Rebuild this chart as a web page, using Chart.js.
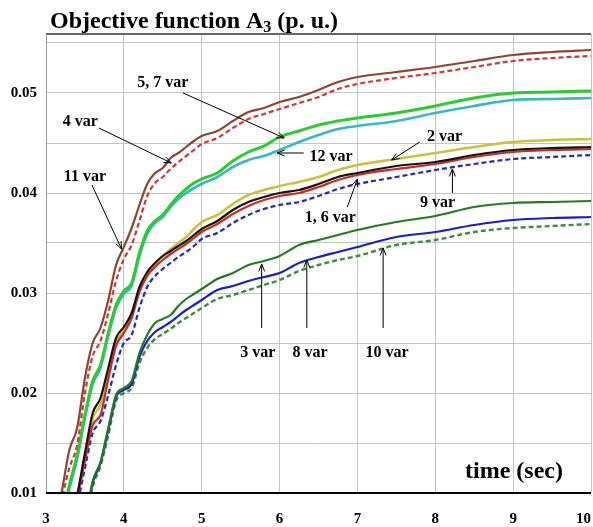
<!DOCTYPE html>
<html>
<head>
<meta charset="utf-8">
<script src="https://cdn.jsdelivr.net/npm/chart.js@4.4.1/dist/chart.umd.min.js"></script>
<style>
  html, body { margin: 0; padding: 0; background: #fff; }
</style>
</head>
<body>
<canvas id="chart" width="593" height="527"></canvas>
<script>
// time axis (sec), shared by every curve
const time = [3.1, 3.2, 3.3, 3.4, 3.5, 3.6, 3.7, 3.8, 3.9, 4.0, 4.1, 4.2, 4.3, 4.4, 4.5, 4.6, 4.7, 4.8, 4.9, 5.0,
  5.2, 5.4, 5.6, 5.8, 6.0, 6.25, 6.5, 6.75, 7.0, 7.5, 8.0, 8.5, 9.0, 9.5, 10.0];

// objective function A3 (p.u.) for each variable set
const var11 = [0.0060, 0.0100, 0.0143, 0.0165, 0.0215, 0.0250, 0.0265, 0.0293, 0.0328, 0.0346, 0.0365, 0.0388, 0.0409, 0.0420, 0.0425, 0.0435, 0.0440, 0.0446, 0.0452, 0.0457,
  0.0462, 0.0472, 0.0481, 0.0485, 0.0491, 0.0496, 0.0503, 0.0511, 0.0516, 0.0521, 0.0526, 0.0532, 0.0538, 0.0541, 0.0543];
const var4 = [0.0050, 0.0092, 0.0125, 0.0148, 0.0200, 0.0237, 0.0252, 0.0280, 0.0312, 0.0334, 0.0348, 0.0372, 0.0397, 0.0410, 0.0416, 0.0424, 0.0431, 0.0437, 0.0443, 0.0449,
  0.0455, 0.0465, 0.0474, 0.0479, 0.0484, 0.0490, 0.0496, 0.0504, 0.0509, 0.0515, 0.0520, 0.0526, 0.0532, 0.0535, 0.0537];
const var57 = [0.0040, 0.0072, 0.0108, 0.0138, 0.0178, 0.0212, 0.0228, 0.0260, 0.0288, 0.0302, 0.0310, 0.0340, 0.0362, 0.0372, 0.0378, 0.0388, 0.0397, 0.0404, 0.0410, 0.0414,
  0.0420, 0.0432, 0.0441, 0.0447, 0.0456, 0.0462, 0.0468, 0.0472, 0.0475, 0.0480, 0.0487, 0.0495, 0.0500, 0.0501, 0.0502];
const var12 = [0.0038, 0.0068, 0.0104, 0.0134, 0.0175, 0.0209, 0.0225, 0.0257, 0.0285, 0.0299, 0.0307, 0.0337, 0.0359, 0.0370, 0.0376, 0.0386, 0.0394, 0.0400, 0.0405, 0.0409,
  0.0416, 0.0426, 0.0433, 0.0437, 0.0443, 0.0451, 0.0458, 0.0464, 0.0467, 0.0472, 0.0480, 0.0487, 0.0493, 0.0494, 0.0495];
const var2 = [0.0008, 0.0038, 0.0068, 0.0096, 0.0136, 0.0175, 0.0188, 0.0218, 0.0250, 0.0262, 0.0276, 0.0303, 0.0318, 0.0328, 0.0337, 0.0344, 0.0350, 0.0356, 0.0364, 0.0371,
  0.0378, 0.0389, 0.0398, 0.0403, 0.0407, 0.0411, 0.0416, 0.0423, 0.0428, 0.0434, 0.0440, 0.0446, 0.0451, 0.0453, 0.0454];
const var1 = [0.0010, 0.0040, 0.0070, 0.0098, 0.0140, 0.0180, 0.0195, 0.0225, 0.0255, 0.0266, 0.0280, 0.0306, 0.0321, 0.0330, 0.0337, 0.0342, 0.0347, 0.0352, 0.0358, 0.0364,
  0.0372, 0.0383, 0.0391, 0.0396, 0.0400, 0.0403, 0.0409, 0.0416, 0.0420, 0.0427, 0.0431, 0.0438, 0.0443, 0.0445, 0.0446];
const var6 = [0.0005, 0.0035, 0.0065, 0.0095, 0.0132, 0.0168, 0.0178, 0.0214, 0.0247, 0.0260, 0.0275, 0.0301, 0.0317, 0.0326, 0.0333, 0.0339, 0.0344, 0.0349, 0.0355, 0.0361,
  0.0369, 0.0379, 0.0387, 0.0393, 0.0397, 0.0400, 0.0406, 0.0413, 0.0418, 0.0424, 0.0429, 0.0436, 0.0441, 0.0443, 0.0444];
const var9 = [0.0000, 0.0030, 0.0060, 0.0088, 0.0125, 0.0160, 0.0172, 0.0198, 0.0228, 0.0250, 0.0258, 0.0285, 0.0306, 0.0317, 0.0324, 0.0330, 0.0336, 0.0341, 0.0347, 0.0354,
  0.0360, 0.0370, 0.0378, 0.0384, 0.0388, 0.0391, 0.0397, 0.0404, 0.0409, 0.0416, 0.0423, 0.0429, 0.0434, 0.0436, 0.0438];
const var3 = [-0.0030, -0.0010, 0.0010, 0.0035, 0.0070, 0.0112, 0.0131, 0.0165, 0.0198, 0.0205, 0.0212, 0.0240, 0.0258, 0.0270, 0.0274, 0.0278, 0.0287, 0.0294, 0.0299, 0.0304,
  0.0314, 0.0320, 0.0328, 0.0332, 0.0337, 0.0348, 0.0353, 0.0358, 0.0363, 0.0371, 0.0377, 0.0386, 0.0390, 0.0391, 0.0392];
const var8 = [-0.0035, -0.0015, 0.0008, 0.0033, 0.0068, 0.0110, 0.0130, 0.0163, 0.0196, 0.0203, 0.0209, 0.0236, 0.0252, 0.0261, 0.0266, 0.0271, 0.0277, 0.0283, 0.0288, 0.0293,
  0.0303, 0.0307, 0.0312, 0.0316, 0.0320, 0.0330, 0.0336, 0.0341, 0.0346, 0.0356, 0.0361, 0.0368, 0.0373, 0.0375, 0.0376];
const var10 = [-0.0040, -0.0020, 0.0005, 0.0030, 0.0064, 0.0106, 0.0127, 0.0158, 0.0192, 0.0200, 0.0205, 0.0230, 0.0245, 0.0254, 0.0259, 0.0264, 0.0270, 0.0275, 0.0280, 0.0285,
  0.0294, 0.0298, 0.0303, 0.0308, 0.0313, 0.0322, 0.0328, 0.0333, 0.0337, 0.0348, 0.0353, 0.0361, 0.0365, 0.0367, 0.0369];

// axis ticks
const xTicks = [3, 4, 5, 6, 7, 8, 9, 10];
const yLabels = [0.01, 0.02, 0.03, 0.04, 0.05];

// curve labels: text position and arrow [from, to] in data units
const notes = [
  { text: '5, 7 var', at: [4.50, 0.0510], from: [4.76, 0.0500], to: [6.06, 0.0455] },
  { text: '4 var',    at: [3.44, 0.0471], from: [3.68, 0.0465], to: [4.61, 0.0430] },
  { text: '11 var',   at: [3.50, 0.0416], from: [3.59, 0.0408], to: [3.97, 0.0344] },
  { text: '12 var',   at: [6.66, 0.0436], from: [6.31, 0.0440], to: [5.97, 0.0440] },
  { text: '2 var',    at: [8.12, 0.0456], from: [7.80, 0.0451], to: [7.44, 0.0433] },
  { text: '1, 6 var', at: [6.65, 0.0375], from: [6.87, 0.0386], to: [7.00, 0.0414] },
  { text: '9 var',    at: [8.03, 0.0390], from: [8.22, 0.0400], to: [8.22, 0.0424] },
  { text: '3 var',    at: [5.72, 0.0240], from: [5.77, 0.0265], to: [5.77, 0.0329] },
  { text: '8 var',    at: [6.39, 0.0240], from: [6.35, 0.0265], to: [6.35, 0.0333] },
  { text: '10 var',   at: [7.38, 0.0240], from: [7.33, 0.0265], to: [7.33, 0.0345] },
];

const SERIF = '"Liberation Serif", "Times New Roman", serif';

function series(values, color, width, dash) {
  return {
    data: values.map((v, i) => ({ x: time[i], y: v })),
    borderColor: color,
    borderWidth: width,
    borderDash: dash || [],
    pointRadius: 0,
    fill: false,
    cubicInterpolationMode: 'monotone',
  };
}

// first dataset ends up on top
const datasets = [
  series(var1, '#141414', 2.2),
  series(var6, '#cc2a22', 2.2),
  series(var9, '#2424c8', 2.2, [5, 3]),
  series(var2, '#c9c23a', 2.6),
  series(var11, '#8a4630', 2.2),
  series(var4, '#d2343a', 2.2, [5, 3]),
  series(var57, '#2ccc2c', 3),
  series(var12, '#35b8c8', 2.6),
  series(var3, '#227a22', 2.2),
  series(var8, '#1c1cc8', 2.2),
  series(var10, '#3f8a3f', 2.4, [5, 3]),
];

function arrow(ctx, x0, y0, x1, y1) {
  const a = Math.atan2(y1 - y0, x1 - x0);
  const h = 8, s = 0.38;
  ctx.beginPath();
  ctx.moveTo(x0, y0);
  ctx.lineTo(x1, y1);
  ctx.moveTo(x1 - h * Math.cos(a - s), y1 - h * Math.sin(a - s));
  ctx.lineTo(x1, y1);
  ctx.lineTo(x1 - h * Math.cos(a + s), y1 - h * Math.sin(a + s));
  ctx.stroke();
}

const frame = {
  id: 'frame',
  afterDraw(chart) {
    const { ctx, chartArea: a, scales } = chart;
    ctx.save();
    ctx.lineCap = 'butt';
    ctx.strokeStyle = '#666';
    ctx.lineWidth = 2;
    ctx.beginPath(); ctx.moveTo(a.left, a.top); ctx.lineTo(a.right, a.top); ctx.stroke();
    ctx.strokeStyle = '#999';
    ctx.lineWidth = 1;
    ctx.beginPath(); ctx.moveTo(a.left + 0.5, a.top); ctx.lineTo(a.left + 0.5, a.bottom); ctx.stroke();
    ctx.strokeStyle = '#000';
    ctx.lineWidth = 2;
    ctx.beginPath(); ctx.moveTo(a.left, a.bottom); ctx.lineTo(a.right, a.bottom); ctx.stroke();

    // title with subscript
    ctx.fillStyle = '#000';
    ctx.textBaseline = 'alphabetic';
    ctx.textAlign = 'left';
    let x = 50;
    const base = 28;
    ctx.font = 'bold 24px ' + SERIF;
    ctx.fillText('Objective function A', x, base);
    x += ctx.measureText('Objective function A').width;
    ctx.font = 'bold 16px ' + SERIF;
    ctx.fillText('3', x, base + 4);
    x += ctx.measureText('3').width;
    ctx.font = 'bold 24px ' + SERIF;
    ctx.fillText(' (p. u.)', x, base);

    // axis name inside the plot
    ctx.font = 'bold 24px ' + SERIF;
    ctx.textAlign = 'right';
    ctx.fillText('time (sec)', a.right - 28, a.bottom - 15);

    // curve labels and arrows
    const xs = scales.x, ys = scales.y;
    ctx.font = 'bold 16px ' + SERIF;
    ctx.textAlign = 'center';
    ctx.textBaseline = 'middle';
    ctx.strokeStyle = '#000';
    ctx.lineWidth = 1;
    notes.forEach(n => {
      ctx.fillText(n.text, xs.getPixelForValue(n.at[0]), ys.getPixelForValue(n.at[1]));
      arrow(ctx, xs.getPixelForValue(n.from[0]), ys.getPixelForValue(n.from[1]),
        xs.getPixelForValue(n.to[0]), ys.getPixelForValue(n.to[1]));
    });
    ctx.restore();
  }
};

new Chart(document.getElementById('chart'), {
  type: 'line',
  data: { datasets },
  options: {
    responsive: false,
    animation: false,
    layout: { padding: { top: 34, right: 2, left: 0, bottom: 0 } },
    plugins: { legend: { display: false }, tooltip: { enabled: false } },
    scales: {
      x: {
        type: 'linear',
        min: xTicks[0],
        max: xTicks[xTicks.length - 1],
        afterBuildTicks: s => { s.ticks = xTicks.map(v => ({ value: v })); },
        afterFit: s => { s.height = 34; s.paddingLeft = 0; s.paddingRight = 0; },
        border: { display: false },
        grid: { color: '#c4c4c4', lineWidth: 1, drawTicks: false },
        ticks: {
          color: '#000',
          padding: 17,
          maxRotation: 0,
          font: { family: SERIF, size: 15, weight: 'bold' },
          // last label sits inside the canvas edge
          callback: v => (v === 10 ? '10\u2002\u2002' : String(v)),
        },
      },
      y: {
        type: 'linear',
        min: 0.01,
        max: 0.0559,
        afterFit: s => { s.width = 46; s.paddingTop = 0; s.paddingBottom = 0; },
        border: { display: false },
        grid: { color: '#c4c4c4', lineWidth: 1, drawTicks: false },
        ticks: {
          stepSize: 0.005,
          includeBounds: false,
          color: '#000',
          padding: 9,
          font: { family: SERIF, size: 15, weight: 'bold' },
          callback: v => {
            const hit = yLabels.find(l => Math.abs(l - v) < 1e-9);
            return hit !== undefined ? hit.toFixed(2) : '';
          },
        },
      },
    },
  },
  plugins: [frame],
});
</script>
</body>
</html>
